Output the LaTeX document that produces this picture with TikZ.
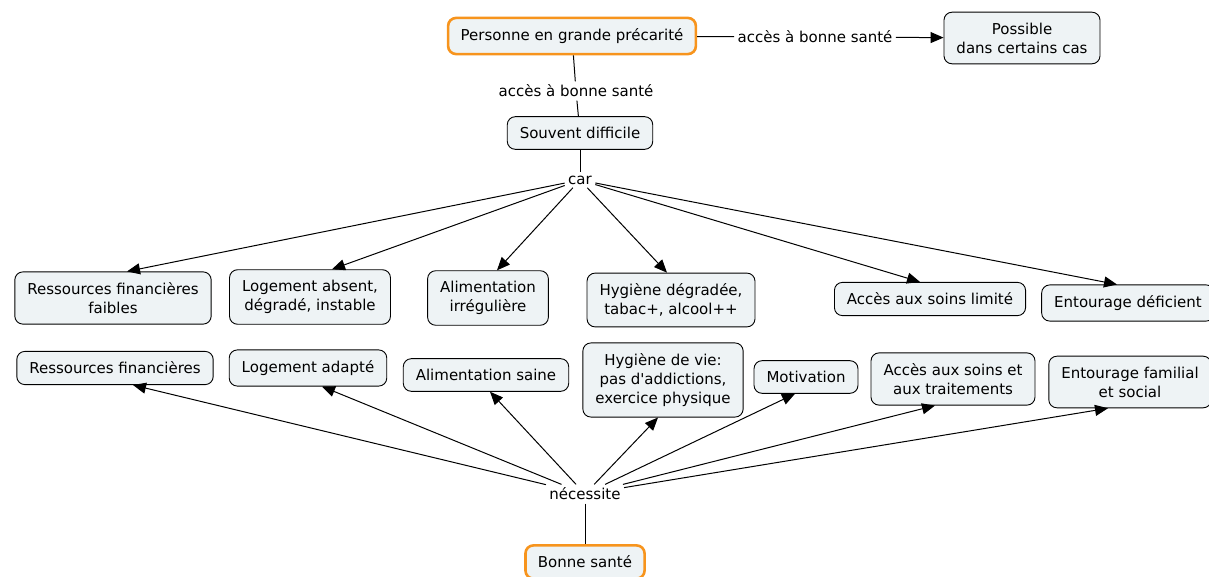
\documentclass[tikz,border=0pt]{standalone}
\usepackage{fontspec}
\setmainfont{DejaVu Sans}
\usepackage{xcolor}
\usetikzlibrary{arrows.meta, positioning}
\definecolor{boxfill}{HTML}{EEF3F5}
\definecolor{hilite}{HTML}{F7941D}

\begin{document}
\begin{tikzpicture}[
        x=1pt, y=-1pt, line width=1pt,
        every node/.style={font=\fontsize{15}{19}\selectfont},
        box/.style={rectangle, draw, rounded corners=8pt, fill=boxfill, align=center, inner xsep=12.5pt, inner ysep=10.5pt, line width=0.9pt},
        key/.style={box, draw=hilite, line width=2.6pt},
        link/.style={inner sep=3pt},
        arrow/.style={-{Triangle[length=13pt,width=11pt]}}
    ]
        \useasboundingbox (0,0) rectangle (1209,577);
        \node[key] (P) at (572,36) {Personne en grande précarité};
        \node[box] (C) at (1022,38) {Possible\\dans certains cas};
        \node[link] (l1) at (815,37) {accès à bonne santé};
        \node[link] (l2) at (576,91) {accès à bonne santé};
        \node[box] (D) at (580,133) {Souvent difficile};
        \node[link] (car) at (580,180) {car};

        \node[box] (R1) at (113,298) {Ressources financières\\faibles};
        \node[box] (L1) at (310,297) {Logement absent,\\dégradé, instable};
        \node[box] (A1) at (488,298) {Alimentation\\irrégulière};
        \node[box] (H1) at (671,300) {Hygiène dégradée,\\tabac+, alcool++};
        \node[box] (S1) at (930,299) {Accès aux soins limité};
        \node[box] (E1) at (1128,303) {Entourage déficient};

        \node[box] (R2) at (115,368) {Ressources financières};
        \node[box] (L2) at (308,368) {Logement adapté};
        \node[box] (A2) at (486,375) {Alimentation saine};
        \node[box] (H2) at (663,380) {Hygiène de vie:\\pas d\textquotesingle addictions,\\exercice physique};
        \node[box] (M2) at (806,377) {Motivation};
        \node[box] (S2) at (953,379) {Accès aux soins et\\aux traitements};
        \node[box] (E2) at (1130,382) {Entourage familial\\et social};
        \node[link] (nec) at (585,494) {nécessite};
        \node[key] (B) at (585,562) {Bonne santé};

        \draw (P) -- (l1);
        \draw[arrow] (l1) -- (C);
        \draw (P) -- (l2);
        \draw (l2) -- (D);
        \draw (D) -- (car);
        \foreach \n/\dx in {R1/14, L1/22, A1/9, H1/-4, S1/-10, E1/-11}
            \draw[arrow] (car) -- ([xshift=\dx pt]\n.north);
        \foreach \n/\dx in {R2/18, L2/14, A2/4, H2/-5, M2/-11, S2/-18, E2/-22}
            \draw[arrow] (nec) -- ([xshift=\dx pt]\n.south);
        \draw (nec) -- (B);
    \end{tikzpicture}
\end{document}
